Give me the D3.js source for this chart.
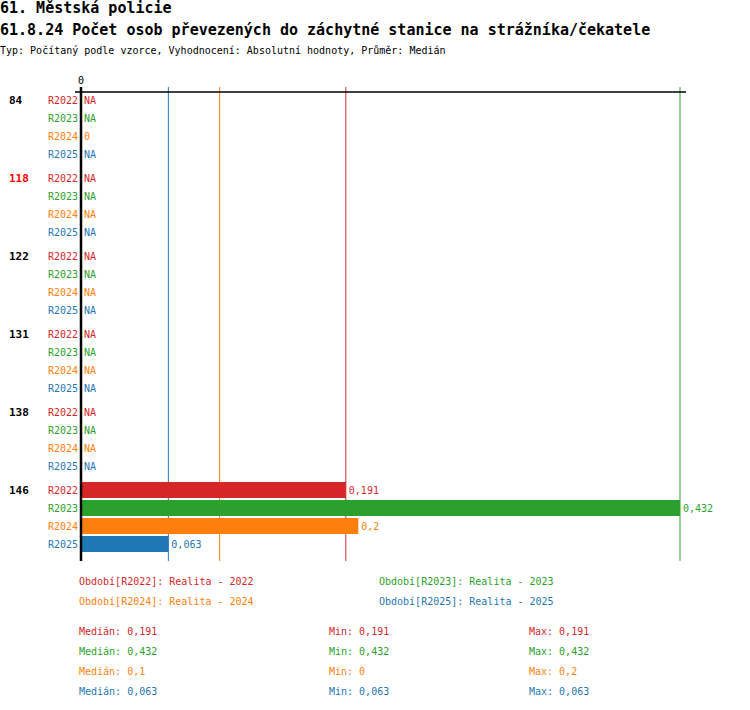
<!DOCTYPE html>
<html>
<head>
<meta charset="utf-8">
<script src="https://cdn.jsdelivr.net/npm/d3@7"></script>
<style>
  body { margin: 0; background: #fff; }
  svg { display: block; font-family: "DejaVu Sans Mono", "Liberation Mono", monospace; }
</style>
</head>
<body>
<svg id="chart" width="750" height="710"></svg>
<script>
const titleLines = ["61. Městská policie", "61.8.24 Počet osob převezených do záchytné stanice na strážníka/čekatele"];
const subtitle = "Typ: Počítaný podle vzorce, Vyhodnocení: Absolutní hodnoty, Průměr: Medián";

const groups = ["84", "118", "122", "131", "138", "146"];
const highlightGroup = "118";
const series = ["R2022", "R2023", "R2024", "R2025"];
const seriesNames = ["Realita - 2022", "Realita - 2023", "Realita - 2024", "Realita - 2025"];
const colors = ["#d62728", "#2ca02c", "#ff7f0e", "#1f77b4"];

const valR2022 = [null, null, null, null, null, 0.191];
const valR2023 = [null, null, null, null, null, 0.432];
const valR2024 = [0, null, null, null, null, 0.2];
const valR2025 = [null, null, null, null, null, 0.063];
const values = [valR2022, valR2023, valR2024, valR2025];

const medians = [0.191, 0.432, 0.1, 0.063];
const mins = [0.191, 0.432, 0, 0.063];
const maxs = [0.191, 0.432, 0.2, 0.063];
const axisTicks = [0];

const fmt = v => String(v).replace(".", ",");

const svg = d3.select("#chart");

// titles
svg.append("text").attr("x", 0).attr("y", 13).attr("font-size", 15).attr("font-weight", "bold").text(titleLines[0]);
svg.append("text").attr("x", 0).attr("y", 35).attr("font-size", 15).attr("font-weight", "bold").text(titleLines[1]);
svg.append("text").attr("x", 0).attr("y", 54).attr("font-size", 10).text(subtitle);

const x = d3.scaleLinear().domain([0, d3.max(maxs)]).range([81, 680]);
const groupStep = 78, rowStep = 18, firstRow = 100;
const rowY = (gi, si) => firstRow + gi * groupStep + si * rowStep;
const plotTop = 87, plotBottom = 561;

// median lines
svg.append("g").selectAll("line").data(medians).join("line")
  .attr("x1", d => x(d)).attr("x2", d => x(d))
  .attr("y1", plotTop).attr("y2", plotBottom)
  .attr("stroke", (d, i) => colors[i]).attr("stroke-width", 1);

// top axis line
svg.append("line").attr("x1", x(0) - 6).attr("x2", x.range()[1] + 6)
  .attr("y1", 92).attr("y2", 92).attr("stroke", "#000").attr("stroke-width", 1.5);
svg.append("g").selectAll("text").data(axisTicks).join("text")
  .attr("x", d => x(d)).attr("y", 84).attr("text-anchor", "middle").attr("font-size", 10).text(d => fmt(d));

// group labels
svg.append("g").selectAll("text").data(groups).join("text")
  .attr("x", 9).attr("y", (d, i) => rowY(i, 0)).attr("dy", "0.35em")
  .attr("font-size", 11).attr("font-weight", "bold")
  .attr("fill", d => d === highlightGroup ? "#ff0000" : "#000").text(d => d);

// rows
const rows = [];
groups.forEach((g, gi) => series.forEach((s, si) => rows.push({ gi, si, s, v: values[si][gi] })));

const rg = svg.append("g");
rg.selectAll("text.sl").data(rows).join("text").attr("class", "sl")
  .attr("x", 78).attr("y", d => rowY(d.gi, d.si)).attr("dy", "0.35em")
  .attr("text-anchor", "end").attr("font-size", 10).attr("fill", d => colors[d.si]).text(d => d.s);

rg.selectAll("rect").data(rows.filter(d => d.v !== null && d.v > 0)).join("rect")
  .attr("x", x(0)).attr("y", d => rowY(d.gi, d.si) - 8)
  .attr("width", d => x(d.v) - x(0)).attr("height", 16)
  .attr("fill", d => colors[d.si]);

rg.selectAll("text.vl").data(rows).join("text").attr("class", "vl")
  .attr("x", d => (d.v === null ? x(0) : x(d.v)) + 3).attr("y", d => rowY(d.gi, d.si)).attr("dy", "0.35em")
  .attr("font-size", 10).attr("fill", d => colors[d.si])
  .text(d => d.v === null ? "NA" : fmt(d.v));

// vertical axis
svg.append("line").attr("x1", x(0)).attr("x2", x(0)).attr("y1", plotTop).attr("y2", plotBottom)
  .attr("stroke", "#000").attr("stroke-width", 2.5);

// legend
const legX = [79, 379], legY = [581, 601];
svg.append("g").selectAll("text").data(series).join("text")
  .attr("x", (d, i) => legX[i % 2]).attr("y", (d, i) => legY[Math.floor(i / 2)]).attr("dy", "0.35em")
  .attr("font-size", 10).attr("fill", (d, i) => colors[i])
  .text((d, i) => `Období[${d}]: ${seriesNames[i]}`);

// stats
const statX = [79, 329, 529], statY0 = 631;
const stats = [];
series.forEach((s, i) => {
  stats.push({ i, c: 0, t: `Medián: ${fmt(medians[i])}` });
  stats.push({ i, c: 1, t: `Min: ${fmt(mins[i])}` });
  stats.push({ i, c: 2, t: `Max: ${fmt(maxs[i])}` });
});
svg.append("g").selectAll("text").data(stats).join("text")
  .attr("x", d => statX[d.c]).attr("y", d => statY0 + d.i * 20).attr("dy", "0.35em")
  .attr("font-size", 10).attr("fill", d => colors[d.i]).text(d => d.t);
</script>
</body>
</html>
